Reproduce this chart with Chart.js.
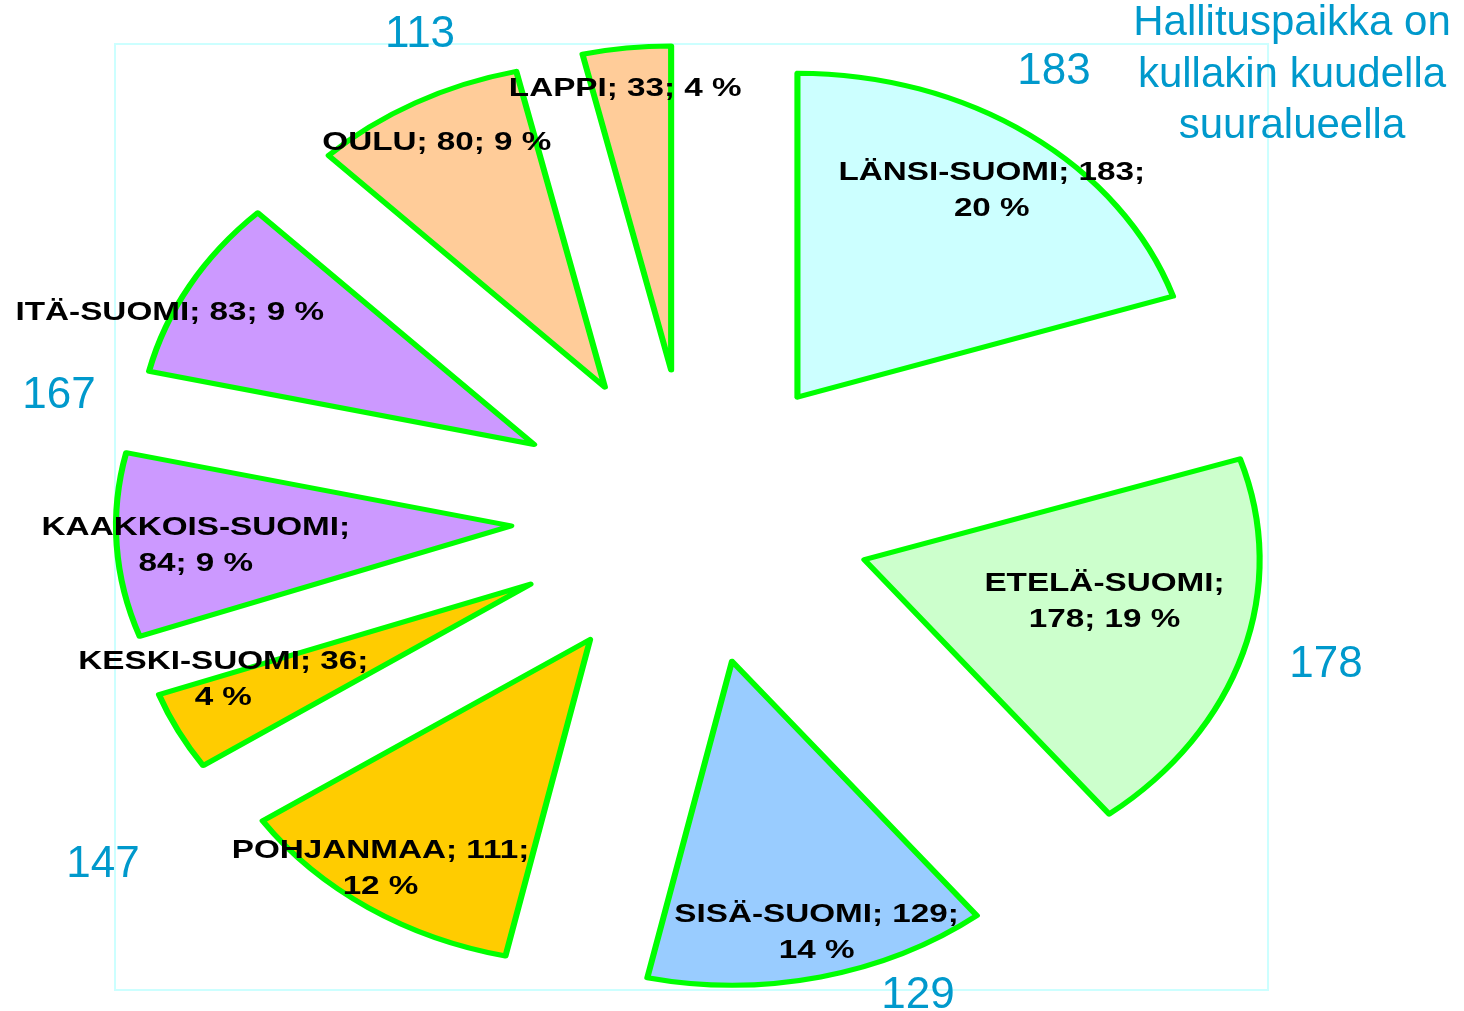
<!DOCTYPE html>
<html lang="fi">
<head>
<meta charset="UTF-8">
<title>Hallituspaikat suuralueittain</title>
<script src="https://cdn.jsdelivr.net/npm/chart.js"></script>
<style>
  body { margin: 0; background: #fff; }
  canvas { display: block; }
</style>
</head>
<body>
<canvas id="seatChart" width="1464" height="1011"></canvas>
<script>
// Data
const regions = ['LÄNSI-SUOMI', 'ETELÄ-SUOMI', 'SISÄ-SUOMI', 'POHJANMAA', 'KESKI-SUOMI',
                 'KAAKKOIS-SUOMI', 'ITÄ-SUOMI', 'OULU', 'LAPPI'];
const seats = [183, 178, 129, 111, 36, 84, 83, 80, 33];
const sliceColors = ['#CCFFFF', '#CCFFCC', '#99CCFF', '#FFCC00', '#FFCC00',
                     '#CC99FF', '#CC99FF', '#FFCC99', '#FFCC99'];
// six large areas, each one holds a government seat
const areaGroups = [[0], [1], [2], [3, 4], [5, 6], [7, 8]];
const titleLines = ['Hallituspaikka on', 'kullakin kuudella', 'suuralueella'];

// Layout (not data): where label text wraps, and label placement [radius fraction, angle nudge deg]
const labelBreak = [2, 1, 2, 2, 2, 1, 3, 3, 3];
const labelPlace = [[0.81, 1.45], [0.62, -5.2], [0.86, -1.45], [0.88, 2.9], [0.83, 6.5],
                    [0.80, -0.6], [1.01, -5.2], [0.87, -0.6], [0.88, -1.1]];
const groupNotePos = [[1054, 84], [1326, 677], [918, 1008], [103, 877], [59, 408], [420, 47]];

const STRETCH = 1.22;       // the original chart picture was widened sideways
const TEXT_STRETCH = 1.09;  // labels are a bit wider still
const EXPLODE = 148;
const LABEL_SIZE = 25;
const total = seats.reduce((a, b) => a + b, 0);

function labelLines(i) {
    const parts = [regions[i], String(seats[i]), Math.round(seats[i] / total * 100) + ' %'];
    const head = parts.slice(0, labelBreak[i]).join('; ');
    const tail = parts.slice(labelBreak[i]).join('; ');
    return tail ? [head + ';', tail] : [head];
}

const explodedPie = {
    id: 'explodedPie',
    afterDatasetsUpdate(chart) {
        chart.getDatasetMeta(0).data.forEach(arc => {
            const mid = (arc.startAngle + arc.endAngle) / 2;
            arc.x += Math.cos(mid) * EXPLODE;
            arc.y += Math.sin(mid) * EXPLODE;
        });
    },
    beforeDatasetsDraw(chart) {
        const { ctx, chartArea: a } = chart;
        ctx.save();
        ctx.strokeStyle = '#CCFFFF';
        ctx.lineWidth = 2;
        ctx.strokeRect(a.left, a.top, a.width, a.height);
        ctx.restore();

        const cx = (a.left + a.right) / 2;
        ctx.save();
        ctx.translate(cx, 0);
        ctx.scale(STRETCH, 1);
        ctx.translate(-cx, 0);
    },
    afterDatasetsDraw(chart) {
        const { ctx } = chart;
        // slice labels, still in the widened space
        ctx.font = `bold ${LABEL_SIZE}px "Liberation Sans", Arial, sans-serif`;
        ctx.fillStyle = '#000';
        ctx.textAlign = 'center';
        ctx.textBaseline = 'alphabetic';
        chart.getDatasetMeta(0).data.forEach((arc, i) => {
            const [f, nudge] = labelPlace[i];
            const ang = (arc.startAngle + arc.endAngle) / 2 + nudge * Math.PI / 180;
            const x = arc.x + Math.cos(ang) * arc.outerRadius * f;
            const y = arc.y + Math.sin(ang) * arc.outerRadius * f;
            const lines = labelLines(i);
            ctx.save();
            ctx.translate(x, 0);
            ctx.scale(TEXT_STRETCH, 1);
            lines.forEach((t, j) => {
                const ly = y + (j - (lines.length - 1) / 2) * 36 + LABEL_SIZE * 0.36;
                ctx.fillText(t, 0, ly);
            });
            ctx.restore();
        });
        ctx.restore();

        // blue notes: seats per large area + title
        ctx.save();
        ctx.fillStyle = '#0099CC';
        ctx.textAlign = 'center';
        ctx.textBaseline = 'alphabetic';
        ctx.font = '44px "Liberation Sans", Arial, sans-serif';
        areaGroups.forEach((g, k) => {
            const sum = g.reduce((s, i) => s + seats[i], 0);
            ctx.fillText(String(sum), groupNotePos[k][0], groupNotePos[k][1]);
        });
        ctx.font = '42px "Liberation Sans", Arial, sans-serif';
        titleLines.forEach((t, j) => ctx.fillText(t, 1292, 35 + j * 51.5));
        ctx.restore();
    }
};

new Chart(document.getElementById('seatChart'), {
    type: 'pie',
    data: {
        labels: regions,
        datasets: [{
            data: seats,
            backgroundColor: sliceColors,
            borderColor: '#00FF00',
            borderWidth: 5,
            borderJoinStyle: 'round',
            radius: 324,
            clip: false
        }]
    },
    options: {
        responsive: false,
        animation: false,
        events: [],
        layout: { padding: { left: 115, top: 44, right: 196, bottom: 21 } },
        plugins: {
            legend: { display: false },
            tooltip: { enabled: false }
        }
    },
    plugins: [explodedPie]
});
</script>
</body>
</html>
